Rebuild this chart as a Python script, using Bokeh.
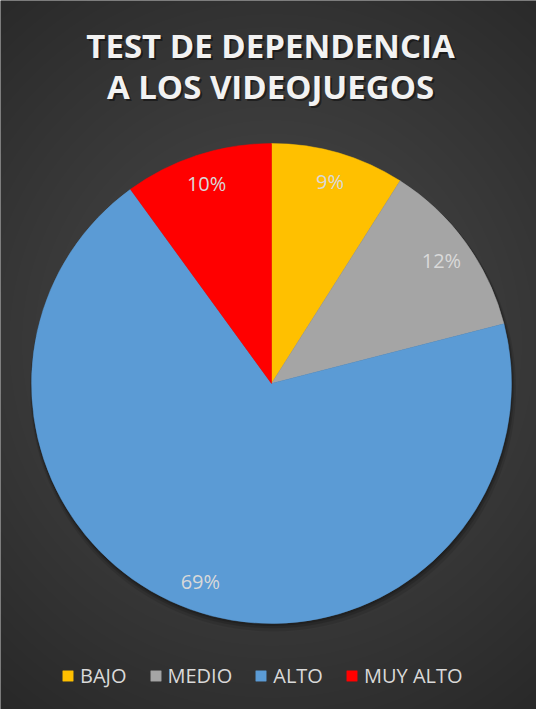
import numpy as np
from bokeh.plotting import figure
from bokeh.models import Range1d, Legend, LegendItem, ColumnDataSource
from bokeh.core.properties import value
from bokeh.embed import file_html
from bokeh.resources import INLINE

# ---- data ----
categories = ["BAJO", "MEDIO", "ALTO", "MUY ALTO"]
percents = [9, 12, 69, 10]
colors = ["#FFC000", "#A5A5A5", "#5B9BD5", "#FF0000"]
title_lines = ["TEST DE DEPENDENCIA", "A LOS VIDEOJUEGOS"]

W, H = 536, 709
CX, CY, R = 271, 326, 240

p = figure(width=W, height=H, x_range=Range1d(0, W), y_range=Range1d(0, H),
           output_backend="svg", toolbar_location=None, min_border=0,
           x_axis_location=None, y_axis_location=None)
p.grid.visible = False
p.outline_line_color = None
p.background_fill_color = "#333333"
p.border_fill_color = "#333333"

# ---- radial gradient background (decoration) ----
ys, xs = np.mgrid[0:H, 0:W]
d = np.sqrt((xs - CX) ** 2 + ((ys - (CY + 40)) * 0.95) ** 2) / 470.0
t = np.clip(d, 0, 1) ** 1.1
c0, c1 = 0x4a, 0x26
g = (c0 + (c1 - c0) * t).astype(np.uint8)
img = np.empty((H, W, 4), dtype=np.uint8)
img[..., 0] = g
img[..., 1] = g
img[..., 2] = g
img[..., 3] = 255
p.image_rgba(image=[img.view(dtype=np.uint32).reshape(H, W)], x=0, y=0, dw=W, dh=H)

# ---- pie shadow (decoration) ----
for k, a in [(5, 0.10), (3, 0.15), (1.5, 0.2)]:
    p.circle(x=[CX + k * 0.3], y=[CY - k], radius=R + k * 0.6,
             fill_color="black", fill_alpha=a, line_color=None)

# ---- wedges ----
total = float(sum(percents))
fr = np.array(percents) / total
cum = np.concatenate([[0], np.cumsum(fr)])
start = np.pi / 2 - 2 * np.pi * cum[:-1]
end = np.pi / 2 - 2 * np.pi * cum[1:]
mid = np.pi / 2 - 2 * np.pi * (cum[:-1] + fr / 2)

src = ColumnDataSource(dict(cat=categories, start=start, end=end, color=colors,
                            x=[CX] * len(categories), y=[CY] * len(categories)))
wr = p.wedge(x="x", y="y", radius=R, start_angle="start", end_angle="end",
             direction="clock", fill_color="color", line_color="color",
             line_width=0.5, source=src)

# ---- data labels ----
lab = ColumnDataSource(dict(
    x=CX + 0.875 * R * np.cos(mid),
    y=CY + 0.875 * R * np.sin(mid),
    t=[f"{v}%" for v in percents]))
p.text(x="x", y="y", text="t", source=lab, text_align="center",
       text_baseline="middle", text_color="#d9d9d9",
       text_font=value("Open Sans"), text_font_size="20px")

# ---- title ----
tx = [W / 2 + 2, W / 2 + 2]
ty = [H - 45, H - 86]
p.text(x=[v + 2 for v in tx], y=[v - 2 for v in ty], text=title_lines,
       text_align="center", text_baseline="alphabetic", text_color="black",
       text_alpha=0.45, text_font=value("Open Sans"), text_font_style="bold",
       text_font_size="33px")
p.text(x=tx, y=ty, text=title_lines, text_align="center",
       text_baseline="alphabetic", text_color="#f2f2f2",
       text_font=value("Open Sans"), text_font_style="bold",
       text_font_size="33px")

# ---- legend ----
items = [LegendItem(label=c, renderers=[wr], index=i) for i, c in enumerate(categories)]
legend = Legend(items=items, orientation="horizontal", location=(61, 20),
                glyph_width=13, glyph_height=13, label_standoff=6, spacing=22,
                label_text_font="Open Sans", label_text_font_size="20px",
                label_text_color="#d9d9d9", background_fill_alpha=0,
                border_line_color=None, padding=0, margin=0, label_height=20)
p.add_layout(legend)

open("out.html", "w").write(file_html(p, INLINE))
